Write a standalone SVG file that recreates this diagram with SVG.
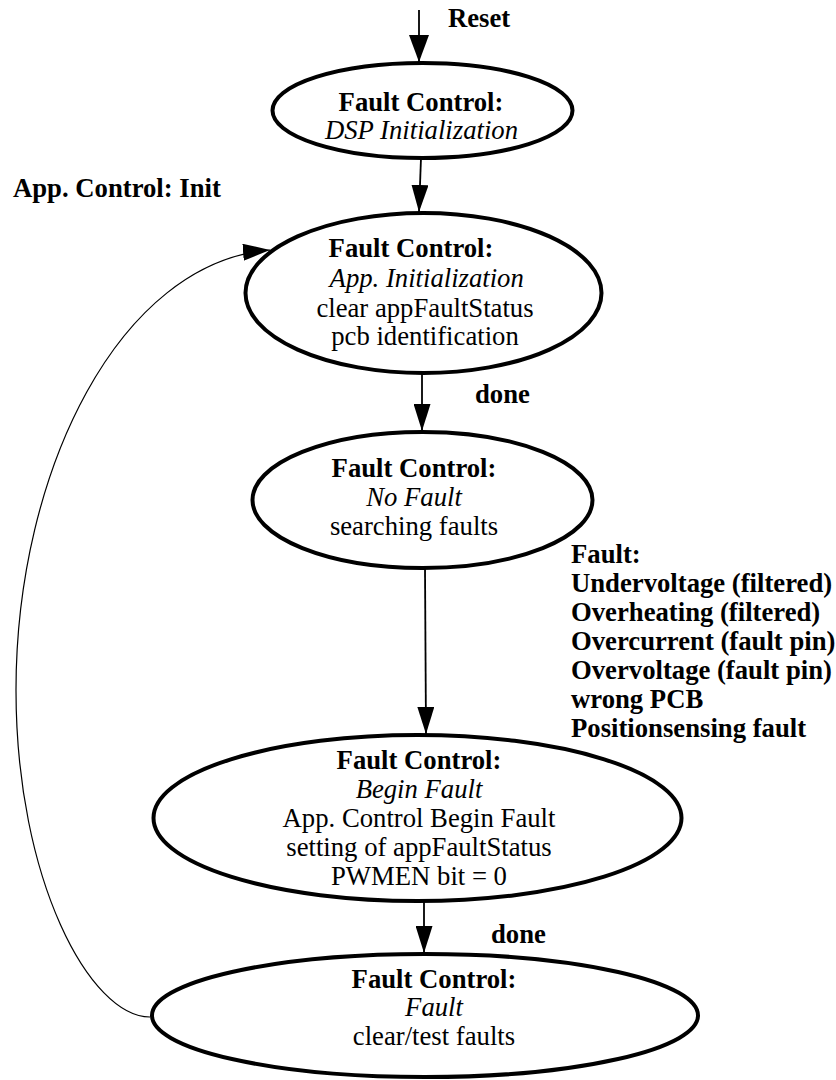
<svg xmlns="http://www.w3.org/2000/svg" width="836" height="1080" viewBox="0 0 836 1080" font-family="'Liberation Serif', 'DejaVu Serif', serif">
  <style>
    text { font-family: "Liberation Serif", "DejaVu Serif", serif; font-size: 26.7px; fill: #000; }
    .b { font-weight: bold; }
    .i { font-style: italic; }
    .c { text-anchor: middle; }
    .state { fill: #fff; stroke: #000; stroke-width: 4; }
    .edge { fill: none; stroke: #000; stroke-width: 1.8; }
    .loop { fill: none; stroke: #000; stroke-width: 1.2; }
  </style>
  <defs>
    <marker id="head" markerUnits="userSpaceOnUse" markerWidth="27" markerHeight="17" refX="27" refY="8.5" orient="auto">
      <path d="M0,0 L27,8.5 L0,17 Z" fill="#000"/>
    </marker>
    <marker id="headWide" markerUnits="userSpaceOnUse" markerWidth="27" markerHeight="20" refX="27" refY="10" orient="auto">
      <path d="M0,0 L27,10 L0,20 Z" fill="#000"/>
    </marker>
  </defs>

  <!-- transitions -->
  <g id="connectors">
    <line class="edge" x1="419" y1="10" x2="419" y2="62" marker-end="url(#headWide)"/>
    <line class="edge" x1="421" y1="158" x2="419" y2="212" marker-end="url(#head)"/>
    <line class="edge" x1="422" y1="373" x2="422" y2="431" marker-end="url(#head)"/>
    <line class="edge" x1="425" y1="568" x2="426" y2="734" marker-end="url(#head)"/>
    <line class="edge" x1="424" y1="902" x2="424" y2="953" marker-end="url(#head)"/>
    <path class="loop" d="M150,1017 C90,1017 16,880 16,690 C16,470 120,262 270,250" marker-end="url(#head)"/>
    <text class="b" x="448" y="27">Reset</text>
    <text class="b" x="13" y="197">App. Control: Init</text>
    <text class="b" x="475" y="403">done</text>
    <text class="b" x="491" y="943">done</text>
    <g class="b">
      <text class="b" x="571" y="563">Fault:</text>
      <text class="b" x="571" y="592">Undervoltage (filtered)</text>
      <text class="b" x="571" y="621">Overheating (filtered)</text>
      <text class="b" x="571" y="650">Overcurrent (fault pin)</text>
      <text class="b" x="571" y="679">Overvoltage (fault pin)</text>
      <text class="b" x="571" y="708">wrong PCB</text>
      <text class="b" x="571" y="737">Positionsensing fault</text>
    </g>
  </g>

  <g id="dsp-init">
    <ellipse class="state" cx="422.5" cy="110.5" rx="150" ry="47.5"/>
    <text class="b c" x="421" y="111">Fault Control:</text>
    <text class="i c" x="421.5" y="139">DSP Initialization</text>
  </g>

  <g id="app-init">
    <ellipse class="state" cx="423.5" cy="293" rx="178" ry="80"/>
    <text class="b c" x="411" y="257">Fault Control:</text>
    <text class="i c" x="426.7" y="287">App. Initialization</text>
    <text class="c" x="425" y="317">clear appFaultStatus</text>
    <text class="c" x="425" y="345">pcb identification</text>
  </g>

  <g id="no-fault">
    <ellipse class="state" cx="422.5" cy="500" rx="170" ry="68"/>
    <text class="b c" x="414" y="477">Fault Control:</text>
    <text class="i c" x="414" y="506">No Fault</text>
    <text class="c" x="414" y="535">searching faults</text>
  </g>

  <g id="begin-fault">
    <ellipse class="state" cx="417.5" cy="818" rx="264" ry="83"/>
    <text class="b c" x="419" y="769">Fault Control:</text>
    <text class="i c" x="419" y="798">Begin Fault</text>
    <text class="c" x="419" y="827">App. Control Begin Fault</text>
    <text class="c" x="419" y="856">setting of appFaultStatus</text>
    <text class="c" x="419" y="885">PWMEN bit = 0</text>
  </g>

  <g id="fault">
    <ellipse class="state" cx="425" cy="1015.5" rx="273" ry="61.5"/>
    <text class="b c" x="434" y="988">Fault Control:</text>
    <text class="i c" x="434" y="1016">Fault</text>
    <text class="c" x="434" y="1045">clear/test faults</text>
  </g>
</svg>
